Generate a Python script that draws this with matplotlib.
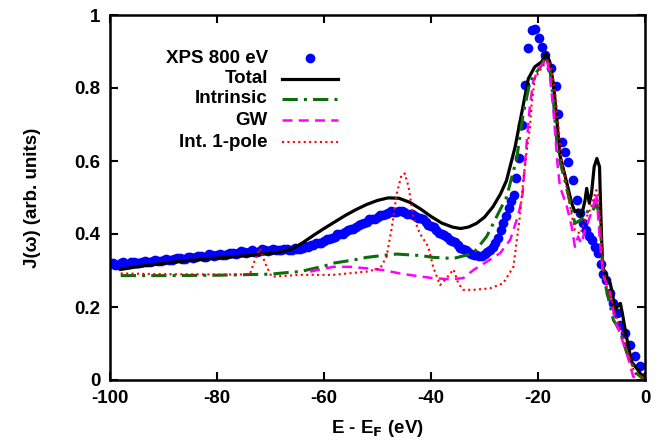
import numpy as np
import matplotlib
matplotlib.use("Agg")
import matplotlib.pyplot as plt

plt.rcParams['font.family'] = ['Liberation Sans', 'DejaVu Sans']
plt.rcParams['font.weight'] = 'bold'
plt.rcParams['axes.unicode_minus'] = False

# XPS 800 eV (measured points)
xps_e = [-100, -99, -98, -97, -96, -95, -94, -93, -92, -91, -90, -89, -88, -87, -86,
         -85, -84, -83, -82, -81, -80, -79, -78, -77, -76, -75, -74, -73, -72, -71,
         -70, -69, -68, -67, -66, -65, -64, -63, -62, -61, -60, -59, -58, -57, -56,
         -55, -54, -53, -52, -51, -50, -49, -48, -47, -46, -45, -44, -43, -42, -41,
         -40, -39, -38, -37, -36, -35, -34, -33, -32, -31, -30, -29, -28, -27.5, -27,
         -26.5, -26, -25.5, -25, -24.5, -24.1, -23.6, -23.0, -22.4, -21.8, -21.2, -20.6,
         -19.9, -19.3, -18.6, -17.6, -16.6, -16.2, -15.6, -15.0, -14.3, -13.4, -12.8,
         -12.1, -11.5, -11.0, -10.5, -10.0, -9.4, -8.8, -8.2, -7.8, -7.2, -6.5, -5.9,
         -5.3, -4.7, -3.7, -2.8, -1.9, -0.9, 0.0]
xps_j = [0.318, 0.315, 0.320, 0.318, 0.322, 0.320, 0.324, 0.322, 0.326, 0.327, 0.329, 0.328,
         0.331, 0.333, 0.332, 0.336, 0.337, 0.339, 0.338, 0.342, 0.343, 0.342, 0.346, 0.347,
         0.349, 0.350, 0.352, 0.351, 0.354, 0.356, 0.355, 0.357, 0.356, 0.358, 0.357, 0.359,
         0.362, 0.365, 0.370, 0.375, 0.380, 0.386, 0.393, 0.400, 0.406, 0.413, 0.420, 0.427,
         0.434, 0.441, 0.447, 0.453, 0.458, 0.461, 0.462, 0.460, 0.455, 0.449, 0.443, 0.433,
         0.423, 0.412, 0.400, 0.391, 0.380, 0.370, 0.360, 0.350, 0.343, 0.340, 0.345, 0.356,
         0.375, 0.390, 0.410, 0.430, 0.450, 0.470, 0.490, 0.507, 0.553, 0.608, 0.700, 0.808,
         0.909, 0.959, 0.962, 0.938, 0.911, 0.890, 0.854, 0.805, 0.728, 0.653, 0.624, 0.598,
         0.548, 0.493, 0.457, 0.429, 0.410, 0.395, 0.384, 0.365, 0.347, 0.318, 0.290, 0.274,
         0.238, 0.210, 0.183, 0.150, 0.128, 0.095, 0.066, 0.037, 0.009]

# XPS points in between (the dense part of the scan)
xps_half_e = [-99.5, -98.5, -97.5, -96.5, -95.5, -94.5, -93.5, -92.5, -91.5, -90.5, -89.5,
              -88.5, -87.5, -86.5, -85.5, -84.5, -83.5, -82.5, -81.5, -80.5, -79.5, -78.5,
              -77.5, -76.5, -75.5, -74.5, -73.5, -72.5, -71.5, -70.5, -69.5, -68.5, -67.5,
              -66.5, -65.5, -64.5, -63.5, -62.5, -61.5, -60.5, -59.5, -58.5, -57.5, -56.5,
              -55.5, -54.5, -53.5, -52.5, -51.5, -50.5, -49.5, -48.5, -47.5, -46.5, -45.5,
              -44.5, -43.5, -42.5, -41.5, -40.5, -39.5, -38.5, -37.5, -36.5, -35.5, -34.5,
              -33.5, -32.5, -31.5, -30.5, -29.5, -28.5]
xps_half_j = [0.321, 0.316, 0.322, 0.318, 0.324, 0.321, 0.326, 0.323, 0.329, 0.326, 0.332,
              0.329, 0.335, 0.331, 0.338, 0.335, 0.341, 0.337, 0.344, 0.340, 0.346, 0.343,
              0.349, 0.346, 0.353, 0.349, 0.355, 0.351, 0.358, 0.354, 0.359, 0.355, 0.360,
              0.356, 0.361, 0.360, 0.366, 0.369, 0.375, 0.376, 0.386, 0.388, 0.399, 0.401,
              0.412, 0.415, 0.426, 0.429, 0.440, 0.442, 0.452, 0.454, 0.462, 0.459, 0.464,
              0.456, 0.455, 0.444, 0.441, 0.426, 0.420, 0.404, 0.398, 0.383, 0.377, 0.363,
              0.357, 0.345, 0.343, 0.341, 0.352, 0.364]

# Total
tot_e = [-98, -95, -90, -85, -80, -75, -70, -68, -66, -64, -62, -60, -58, -56, -54, -52,
         -50, -48, -46, -44, -42, -40, -38, -36, -34.5, -33, -31.5, -30, -28.4, -27, -25.9,
         -24.3, -23.0, -21.8, -20.6, -19.3, -18.5, -17.8, -17.1, -16.5, -15.9, -14.6, -13.7,
         -13.1, -12.5, -11.9, -11.2, -10.9, -10.4, -10.0, -9.5, -9.0, -8.5, -8.3, -8.1,
         -7.9, -7.2, -6.5, -6.0, -5.6, -5.0, -4.6, -4.2, -3.7, -3.1, -2.5, -1.3, 0.0]
tot_j = [0.303, 0.310, 0.320, 0.328, 0.334, 0.340, 0.347, 0.351, 0.359, 0.376, 0.396, 0.415,
         0.433, 0.451, 0.467, 0.481, 0.492, 0.499, 0.498, 0.487, 0.469, 0.448, 0.430, 0.419,
         0.415, 0.419, 0.429, 0.446, 0.475, 0.510, 0.546, 0.637, 0.735, 0.826, 0.858, 0.872,
         0.895, 0.872, 0.808, 0.717, 0.616, 0.539, 0.484, 0.461, 0.466, 0.447, 0.493, 0.525,
         0.484, 0.511, 0.584, 0.607, 0.584, 0.475, 0.384, 0.310, 0.283, 0.265, 0.230, 0.190,
         0.205, 0.210, 0.180, 0.137, 0.091, 0.050, 0.027, 0.0]

# Intrinsic
int_e = [-98, -90, -80, -70, -66.4, -64.5, -60, -58.3, -54, -52, -48, -46.4, -42, -39.6,
         -35.8, -32.1, -29.6, -27.1, -25.9, -25.2, -24.0, -22.8, -21.5, -20.2, -19.3, -18.6,
         -17.8, -17.1, -16.5, -15.9, -15.0, -13.7, -13.1, -12.1, -11.2, -10.6, -10.0, -9.3,
         -9.0, -8.5, -8.1, -7.8, -7.2, -5.9, -4.7, -3.4, -1.6, 0.0]
int_j = [0.286, 0.286, 0.287, 0.290, 0.295, 0.297, 0.312, 0.320, 0.330, 0.336, 0.343, 0.345,
         0.341, 0.336, 0.333, 0.347, 0.393, 0.466, 0.500, 0.539, 0.605, 0.726, 0.817, 0.845,
         0.863, 0.886, 0.854, 0.762, 0.653, 0.598, 0.548, 0.466, 0.429, 0.438, 0.447, 0.466,
         0.461, 0.475, 0.484, 0.440, 0.365, 0.290, 0.247, 0.164, 0.137, 0.074, 0.018, 0.0]

# GW
gw_e = [-62.6, -58.3, -55.1, -52.0, -48.9, -45.8, -42.7, -39.6, -36.4, -34.0, -32.1, -29.6,
        -27.1, -25.2, -24.0, -23.4, -22.9, -22.1, -21.5, -20.9, -19.9, -19.0, -18.4, -17.8,
        -17.1, -16.4, -15.9, -14.6, -13.7, -13.1, -12.5, -11.9, -11.2, -10.3, -9.7, -9.1,
        -8.7, -8.3, -7.8, -6.5, -5.6, -4.7, -3.4, -2.2, -1.0]
gw_j = [0.297, 0.310, 0.310, 0.306, 0.301, 0.292, 0.285, 0.279, 0.276, 0.279, 0.301, 0.324,
        0.347, 0.384, 0.438, 0.470, 0.507, 0.653, 0.753, 0.817, 0.854, 0.867, 0.881, 0.836,
        0.735, 0.598, 0.530, 0.475, 0.420, 0.365, 0.393, 0.374, 0.411, 0.447, 0.475, 0.511,
        0.438, 0.356, 0.287, 0.237, 0.164, 0.128, 0.073, 0.009, 0.0]

# Int. 1-pole
pole_e = [-98, -90, -80, -75, -73.8, -72.9, -72.0, -71.0, -69.8, -64.5, -58.3, -52.0, -49.5,
          -48.3, -47.3, -46.4, -45.5, -44.9, -44.2, -43.3, -42.1, -40.5, -39.6, -38.3, -37.1,
          -35.8, -34.9, -34.0, -32.1, -29.0, -26.5, -24.6, -23.4, -22.8, -22.1, -21.5, -21.2,
          -20.6, -19.6, -18.7, -18.1, -17.5, -16.8, -16.2, -15.6, -15.0, -13.7, -13.1, -12.1,
          -11.2, -10.3, -9.7, -9.1, -8.7, -8.3, -7.9, -7.2, -6.2, -5.3, -4.4, -3.4, -1.9, 0.0]
pole_j = [0.292, 0.290, 0.289, 0.289, 0.292, 0.330, 0.361, 0.320, 0.283, 0.288, 0.288, 0.297,
          0.306, 0.338, 0.420, 0.511, 0.562, 0.566, 0.530, 0.447, 0.402, 0.365, 0.310, 0.260,
          0.279, 0.303, 0.265, 0.247, 0.247, 0.251, 0.265, 0.310, 0.447, 0.539, 0.630, 0.690,
          0.753, 0.826, 0.849, 0.867, 0.877, 0.854, 0.790, 0.699, 0.607, 0.557, 0.452, 0.411,
          0.400, 0.438, 0.466, 0.493, 0.520, 0.510, 0.420, 0.320, 0.256, 0.219, 0.164, 0.137,
          0.082, 0.018, 0.0]

labels = ["XPS 800 eV", "Total", "Intrinsic", "GW", "Int. 1-pole"]

fig = plt.figure(figsize=(6.66, 4.46), dpi=100)
ax = fig.add_axes([110 / 666, 1 - 380 / 446, 535 / 666, 365 / 446])

styles = [
    dict(color='#0000ff', linestyle='none', marker='o', markersize=7, markeredgewidth=0),
    dict(color='black', linewidth=2.3),
    dict(color='#0b6e0b', linewidth=2.2, linestyle=(0, (5, 2, 1, 2))),
    dict(color='#ff00ff', linewidth=1.8, linestyle=(0, (4, 2.5))),
    dict(color='#ff0000', linewidth=1.5, linestyle=(0, (1, 1.6))),
]
series = [(xps_e + xps_half_e, xps_j + xps_half_j), (tot_e, tot_j), (int_e, int_j),
          (gw_e, gw_j), (pole_e, pole_j)]

for (xe, yj), st in zip(series, styles):
    ax.plot(xe, yj, **st)

# gnuplot-style key: text right-justified, sample on the right
key_rows = [0.882, 0.825, 0.770, 0.712, 0.652]
for lab, st, yk in zip(labels, styles, key_rows):
    ax.text(0.2953, yk, lab, transform=ax.transAxes, ha='right', va='center',
            fontsize=13.5, fontweight='bold')
    if st.get('marker'):
        ax.plot([0.374], [yk], transform=ax.transAxes, **st)
    else:
        ax.plot([0.3215, 0.426], [yk, yk], transform=ax.transAxes, **st)

ax.set_xlim(-100, 0)
ax.set_ylim(0, 1)
ax.set_xticks(np.arange(-100, 1, 20))
ax.set_yticks([0, 0.2, 0.4, 0.6, 0.8, 1.0])
ax.set_yticklabels(["0", "0.2", "0.4", "0.6", "0.8", "1"])
ax.tick_params(direction='in', length=6, width=1.5, top=True, right=True,
               labelsize=13.5, pad=7)
for lbl in ax.get_xticklabels() + ax.get_yticklabels():
    lbl.set_fontweight('bold')
for sp in ax.spines.values():
    sp.set_linewidth(1.8)

ax.set_xlabel("E - E$_\\mathbf{F}$ (eV)", fontsize=13.5, fontweight='bold', labelpad=8)
ax.set_ylabel("J(ω) (arb. units)", fontsize=13.5, fontweight='bold', labelpad=24)

fig.savefig("out.png", dpi=100)
